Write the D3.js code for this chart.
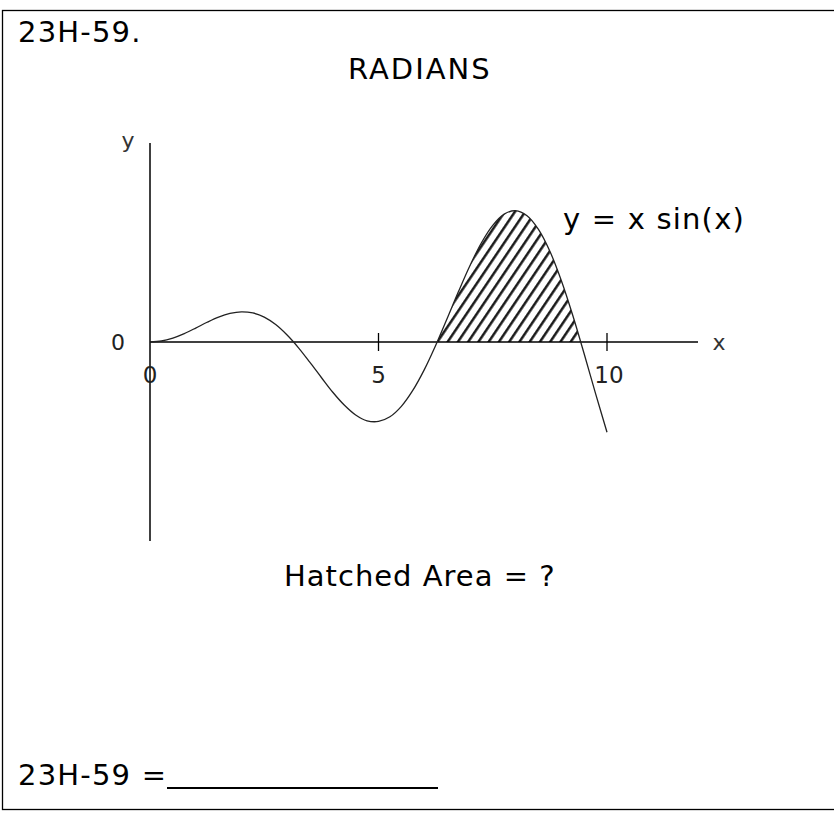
<!DOCTYPE html>
<html>
<head>
<meta charset="utf-8">
<script src="https://cdn.jsdelivr.net/npm/d3@7"></script>
<style>
html,body{margin:0;padding:0;background:#fff;}
svg{display:block;}
text{font-family:"DejaVu Sans",Verdana,sans-serif;}
</style>
</head>
<body>
<svg id="c" width="834" height="814"></svg>
<script>
// Curve samples (x, y = x sin x)
const curveX = [0,0.25,0.5,0.75,1,1.25,1.5,1.75,2,2.25,2.5,2.75,3,3.25,3.5,3.75,4,4.25,4.5,4.75,5,5.25,5.5,5.75,6,6.25,6.5,6.75,7,7.25,7.5,7.75,8,8.25,8.5,8.75,9,9.25,9.5,9.75,10];
const curveY = [0,0.06,0.24,0.51,0.84,1.19,1.5,1.72,1.82,1.75,1.5,1.05,0.42,-0.35,-1.23,-2.14,-3.03,-3.8,-4.4,-4.75,-4.79,-4.51,-3.88,-2.92,-1.68,-0.21,1.4,3.04,4.6,5.97,7.03,7.71,7.92,7.61,6.79,5.47,3.71,1.61,-0.71,-3.11,-5.44];
const hatchRange = [6.283, 9.425];
const xTicks = [5, 10];
const xTickLabels = ["0", "5", "10"];
const xTickLabelValues = [0, 5, 10];
const titleText = "23H-59.";
const subtitleText = "RADIANS";
const curveLabel = "y = x sin(x)";
const questionText = "Hatched Area = ?";
const answerText = "23H-59 =";

const svg = d3.select("#c");
const x = d3.scaleLinear().domain([0, 10]).range([150, 607]);
const y = d3.scaleLinear().domain([-12, 12]).range([541, 143]);
const data = curveX.map((v, i) => ({x: v, y: curveY[i]}));

// border
svg.append("rect").attr("x", 2.5).attr("y", 10.5).attr("width", 840).attr("height", 799)
  .attr("fill", "none").attr("stroke", "#000").attr("stroke-width", 1.3);

// hatch pattern
const defs = svg.append("defs");
const pat = defs.append("pattern").attr("id", "hatch").attr("patternUnits", "userSpaceOnUse")
  .attr("width", 8.5).attr("height", 8.5).attr("patternTransform", "rotate(34)");
pat.append("line").attr("x1", 1.3).attr("y1", 0).attr("x2", 1.3).attr("y2", 8.5)
  .attr("stroke", "#111").attr("stroke-width", 2.4);
defs.append("clipPath").attr("id", "hclip").append("rect")
  .attr("x", x(hatchRange[0])).attr("y", 0)
  .attr("width", x(hatchRange[1]) - x(hatchRange[0])).attr("height", y(0));

const area = d3.area().x(d => x(d.x)).y0(y(0)).y1(d => y(d.y)).curve(d3.curveCatmullRom);
svg.append("path").datum(data.filter(d => d.x >= 6 && d.x <= 9.75)).attr("d", area)
  .attr("fill", "url(#hatch)").attr("clip-path", "url(#hclip)");

// axes
svg.append("line").attr("x1", x(0)).attr("x2", 698).attr("y1", y(0)).attr("y2", y(0))
  .attr("stroke", "#000").attr("stroke-width", 1.5);
svg.append("line").attr("x1", x(0)).attr("x2", x(0)).attr("y1", y(12)).attr("y2", y(-12))
  .attr("stroke", "#000").attr("stroke-width", 1.5);
svg.selectAll(".tk").data(xTicks).enter().append("line")
  .attr("x1", d => x(d)).attr("x2", d => x(d)).attr("y1", y(0) - 9).attr("y2", y(0) + 9)
  .attr("stroke", "#000").attr("stroke-width", 1.3);
svg.selectAll(".tl").data(xTickLabelValues).enter().append("text")
  .attr("x", (d, i) => x(d) + (i === 2 ? 2 : 0)).attr("y", 383).attr("text-anchor", "middle")
  .attr("font-size", 23).attr("fill", "#222").text((d, i) => xTickLabels[i]);
svg.append("text").attr("x", 118).attr("y", 350).attr("text-anchor", "middle")
  .attr("font-size", 22).attr("fill", "#222").text("0");
svg.append("text").attr("x", 128).attr("y", 148).attr("text-anchor", "middle")
  .attr("font-size", 22).attr("fill", "#333").text("y");
svg.append("text").attr("x", 719).attr("y", 350).attr("text-anchor", "middle")
  .attr("font-size", 22).attr("fill", "#333").text("x");

// curve
const line = d3.line().x(d => x(d.x)).y(d => y(d.y)).curve(d3.curveCatmullRom);
svg.append("path").datum(data).attr("d", line).attr("fill", "none")
  .attr("stroke", "#222").attr("stroke-width", 1.3);

// texts
svg.append("text").attr("x", 18).attr("y", 42).attr("font-size", 29).attr("letter-spacing", 1.2).text(titleText);
svg.append("text").attr("x", 348).attr("y", 79).attr("font-size", 29).attr("letter-spacing", 2).text(subtitleText);
svg.append("text").attr("x", 563).attr("y", 229).attr("font-size", 29).attr("letter-spacing", 1.2).text(curveLabel);
svg.append("text").attr("x", 284).attr("y", 586).attr("font-size", 29).attr("letter-spacing", 1).text(questionText);
svg.append("text").attr("x", 18).attr("y", 785).attr("font-size", 29).attr("letter-spacing", 1.2).text(answerText);
svg.append("line").attr("x1", 167).attr("x2", 438).attr("y1", 788).attr("y2", 788)
  .attr("stroke", "#000").attr("stroke-width", 2);
</script>
</body>
</html>
